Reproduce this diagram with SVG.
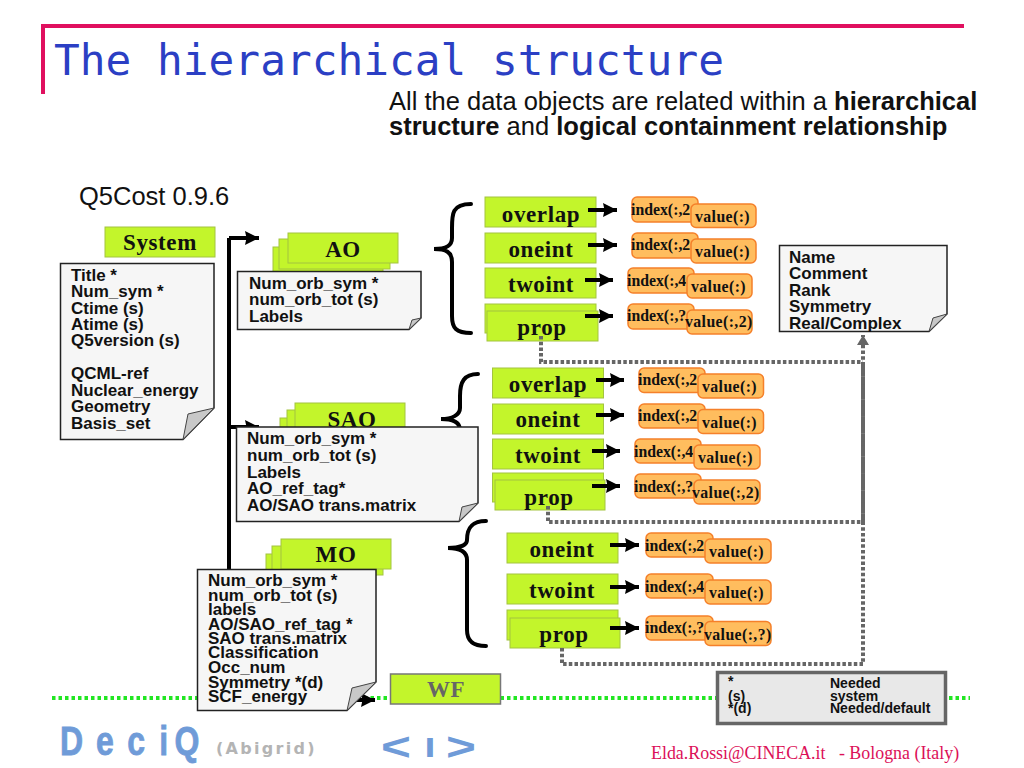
<svg xmlns="http://www.w3.org/2000/svg" width="1024" height="768" viewBox="0 0 1024 768">
<style>
.g{fill:#c3f52b;stroke:#a3c440;stroke-width:1}
.gt{font:bold 23px "Liberation Serif",serif;fill:#111;text-anchor:middle;letter-spacing:.6px}
.o{fill:#ffbd5e;stroke:#f5802a;stroke-width:1.5}
.ot{font:bold 15.800px "Liberation Serif",serif;fill:#111;letter-spacing:.4px}
.it{font:bold 15.800px "Liberation Serif",serif;fill:#111}
.d{fill:#f6f6f6;stroke:#222;stroke-width:1.5}
.f{fill:#c8c8c8;stroke:#444;stroke-width:1}
.dt{font:bold 17px "Liberation Sans",sans-serif;fill:#111;transform:translateY(1px)}
.lt{font:bold 14px "Liberation Sans",sans-serif;fill:#111}
.a{fill:none;stroke:#000;stroke-width:4;marker-end:url(#ah)}
.t{fill:none;stroke:#000;stroke-width:4}
.b{fill:none;stroke:#000;stroke-width:4;stroke-linecap:round}
.p{fill:none;stroke:#666;stroke-width:4;stroke-dasharray:3.5 2.2}
.lg{font:bold 40px "Liberation Sans",sans-serif;fill:#6f9bd8}
</style>
<defs>
<marker id="ah" markerUnits="userSpaceOnUse" markerWidth="16" markerHeight="14" refX="14" refY="7" orient="auto"><path d="M0 0L14 7L0 14L1.500 7Z" fill="#000"/></marker>
<marker id="gh" markerUnits="userSpaceOnUse" markerWidth="12" markerHeight="14" refX="10" refY="6" orient="auto"><path d="M0 0L10 6L0 12Z" fill="#666"/></marker>
</defs>
<rect width="1024" height="768" fill="#fff"/>
<g id="frame"><path d="M43 94V26H964" fill="none" stroke="#e0105f" stroke-width="4"/></g>
<text x="54" y="75" style="font:42.800px 'DejaVu Sans Mono',monospace;fill:#2b3fc4">The hierarchical structure</text>
<text x="389" y="110" style="font:25.500px 'Liberation Sans',sans-serif;fill:#111">All the data objects are related within a <tspan font-weight="bold">hierarchical</tspan></text>
<text x="389" y="135" style="font:25.500px 'Liberation Sans',sans-serif;fill:#111"><tspan font-weight="bold">structure</tspan> and <tspan font-weight="bold">logical containment relationship</tspan></text>
<text x="79" y="205" style="font:25.500px 'Liberation Sans',sans-serif;fill:#111">Q5Cost 0.9.6</text>
<path d="M52 698H970" fill="none" stroke="#22e622" stroke-width="4" stroke-dasharray="3.5 3"/>

<g id="braces">
<path class="b" d="M471 204C452 204 452 214 452 228V238C452 246 446 249 434 249C446 249 452 252 452 262V316C452 328 456 333 471 333"/>
<path class="b" d="M478 374C464 374 460 382 460 396V408C460 415 452 419 441 419C452 419 460 422 460 430V440"/>
<path class="b" d="M486 521C470 521 467 530 467 540C467 545 460 548 448 548C460 548 467 552 467 560V630C467 640 472 646 486 646"/>
</g>

<g id="b1-overlap"><rect class="g" x="485" y="197" width="111" height="30"/><text class="gt" x="541" y="222">overlap</text></g>
<g id="b1-oneint"><rect class="g" x="485" y="233" width="111" height="30"/><text class="gt" x="541" y="257">oneint</text></g>
<g id="b1-twoint"><rect class="g" x="485" y="268" width="111" height="30"/><text class="gt" x="541" y="292">twoint</text></g>
<g id="b1-prop"><rect class="g" x="485" y="304" width="111" height="29"/><rect class="g" x="487" y="311" width="111" height="30"/><text class="gt" x="542" y="335">prop</text></g>
<g id="b2-overlap"><rect class="g" x="492.500" y="368" width="111" height="30"/><text class="gt" x="548" y="392">overlap</text></g>
<g id="b2-oneint"><rect class="g" x="492.500" y="404" width="111" height="30"/><text class="gt" x="548" y="427">oneint</text></g>
<g id="b2-twoint"><rect class="g" x="492.500" y="439" width="111" height="30"/><text class="gt" x="548" y="463">twoint</text></g>
<g id="b2-prop"><rect class="g" x="492.500" y="473" width="111" height="29"/><rect class="g" x="495" y="480" width="110" height="30"/><text class="gt" x="549" y="505">prop</text></g>
<g id="b3-oneint"><rect class="g" x="507" y="533" width="111" height="30"/><text class="gt" x="562" y="557">oneint</text></g>
<g id="b3-twoint"><rect class="g" x="507" y="574" width="111" height="30"/><text class="gt" x="562" y="598">twoint</text></g>
<g id="b3-prop"><rect class="g" x="507" y="610" width="111" height="30"/><rect class="g" x="510" y="618" width="110" height="30"/><text class="gt" x="564" y="642">prop</text></g>

<g id="connectors">
<path class="t" d="M229 238V700"/>
<path class="a" d="M229 238H259"/>
<path class="a" d="M229 427H259"/>
<path class="a" d="M229 700H375"/>
<path class="a" d="M588 210H617"/>
<path class="a" d="M588 245H617"/>
<path class="a" d="M585 280H613"/>
<path class="a" d="M585 316H613"/>
<path class="a" d="M596 380H624"/>
<path class="a" d="M596 415H624"/>
<path class="a" d="M592 451H620"/>
<path class="a" d="M592 486H620"/>
<path class="a" d="M610 545H639"/>
<path class="a" d="M610 587H639"/>
<path class="a" d="M610 628H639"/>
<path class="p" d="M541 336V362H863"/>
<path class="p" d="M548 506V522H863V362"/>
<path class="p" d="M562 648V664H863V335" marker-end="url(#gh)"/>
</g>

<g id="v1a"><rect class="o" x="632" y="197" width="66" height="25" rx="5"/><text class="it" x="631" y="215">index(:,2</text><rect class="o" x="691" y="204" width="65" height="23.500" rx="5"/><text class="ot" x="695" y="222">value(:)</text></g>
<g id="v1b"><rect class="o" x="632" y="233" width="66" height="25" rx="5"/><text class="it" x="631" y="250">index(:,2</text><rect class="o" x="691" y="239" width="65" height="24" rx="5"/><text class="ot" x="695" y="257">value(:)</text></g>
<g id="v1c"><rect class="o" x="628" y="268" width="66" height="25" rx="5"/><text class="it" x="627" y="286">index(:,4</text><rect class="o" x="687" y="274" width="65" height="24" rx="5"/><text class="ot" x="691" y="292">value(:)</text></g>
<g id="v1d"><rect class="o" x="628" y="304" width="66" height="25" rx="5"/><text class="it" x="627" y="321">index(:,?</text><rect class="o" x="687" y="310" width="65" height="24" rx="5"/><text class="ot" x="685" y="327">value(:,2)</text></g>
<g id="v2a"><rect class="o" x="639" y="368" width="66" height="24.500" rx="5"/><text class="it" x="638" y="385">index(:,2</text><rect class="o" x="698" y="374" width="65.500" height="24" rx="5"/><text class="ot" x="702" y="392">value(:)</text></g>
<g id="v2b"><rect class="o" x="639" y="404" width="66" height="24" rx="5"/><text class="it" x="638" y="421">index(:,2</text><rect class="o" x="698" y="409.500" width="65.500" height="24" rx="5"/><text class="ot" x="702" y="428">value(:)</text></g>
<g id="v2c"><rect class="o" x="635" y="439" width="66" height="24" rx="5"/><text class="it" x="634" y="457">index(:,4</text><rect class="o" x="694" y="445" width="66" height="24" rx="5"/><text class="ot" x="698" y="463">value(:)</text></g>
<g id="v2d"><rect class="o" x="635" y="474" width="66" height="24" rx="5"/><text class="it" x="634" y="492">index(:,?</text><rect class="o" x="694" y="480" width="66" height="24" rx="5"/><text class="ot" x="692" y="498">value(:,2)</text></g>
<g id="v3a"><rect class="o" x="646" y="533" width="67" height="24" rx="5"/><text class="it" x="645" y="551">index(:,2</text><rect class="o" x="705" y="539" width="66" height="24" rx="5"/><text class="ot" x="709" y="557">value(:)</text></g>
<g id="v3b"><rect class="o" x="646" y="574" width="67" height="24" rx="5"/><text class="it" x="645" y="592">index(:,4</text><rect class="o" x="705" y="580" width="66" height="24" rx="5"/><text class="ot" x="709" y="598">value(:)</text></g>
<g id="v3c"><rect class="o" x="646" y="616" width="67" height="24" rx="5"/><text class="it" x="645" y="633">index(:,?</text><rect class="o" x="705" y="621.500" width="66" height="24" rx="5"/><text class="ot" x="704" y="640">value(:,?)</text></g>

<g id="system"><rect class="g" x="105" y="227" width="110" height="30"/><text class="gt" x="160" y="250">System</text></g>
<g id="system-doc">
<path class="d" d="M60.500 263.500H214V408L183 439.500H60.500Z"/><path class="f" d="M183 439.500L188 414L214 408Z"/>
<text class="dt"><tspan x="71" y="280">Title *</tspan><tspan x="71" y="296">Num_sym *</tspan><tspan x="71" y="313">Ctime (s)</tspan><tspan x="71" y="329">Atime (s)</tspan><tspan x="71" y="345">Q5version (s)</tspan><tspan x="71" y="378">QCML-ref</tspan><tspan x="71" y="395">Nuclear_energy</tspan><tspan x="71" y="411">Geometry</tspan><tspan x="71" y="428">Basis_set</tspan></text>
</g>

<g id="ao"><rect class="g" x="273" y="247" width="110" height="30"/><rect class="g" x="279" y="239" width="111" height="30"/><rect class="g" x="288" y="233" width="110" height="30"/><text class="gt" x="343" y="257">AO</text></g>
<g id="ao-doc">
<path class="d" d="M237.500 271.500H421V318L409 329.500H237.500Z"/><path class="f" d="M409 329.500L412 320L421 318Z"/>
<text class="dt"><tspan x="249" y="288">Num_orb_sym *</tspan><tspan x="249" y="304">num_orb_tot (s)</tspan><tspan x="249" y="321">Labels</tspan></text>
</g>

<g id="sao"><rect class="g" x="280" y="418" width="110" height="30"/><rect class="g" x="287" y="410" width="110" height="30"/><rect class="g" x="295" y="403" width="110" height="30"/><text class="gt" x="352" y="427">SAO</text></g>
<g id="sao-doc">
<path class="d" d="M236.500 427H478V503L459 521.500H236.500Z"/><path class="f" d="M459 521.500L462 507L478 503Z"/>
<text class="dt"><tspan x="247" y="443">Num_orb_sym *</tspan><tspan x="247" y="460">num_orb_tot (s)</tspan><tspan x="247" y="477">Labels</tspan><tspan x="247" y="493">AO_ref_tag*</tspan><tspan x="247" y="510">AO/SAO trans.matrix</tspan></text>
</g>

<g id="mo"><rect class="g" x="266" y="554" width="110" height="21"/><rect class="g" x="272" y="546" width="111" height="29"/><rect class="g" x="281" y="539" width="110" height="30"/><text class="gt" x="336" y="562">MO</text></g>
<g id="mo-doc">
<path class="d" d="M197.500 569.500H376V682L347 710.500H197.500Z"/><path class="f" d="M347 710.500L352 688L376 682Z"/>
<text class="dt"><tspan x="208" y="585">Num_orb_sym *</tspan><tspan x="208" y="600">num_orb_tot (s)</tspan><tspan x="208" y="614">labels</tspan><tspan x="208" y="629">AO/SAO_ref_tag *</tspan><tspan x="208" y="643">SAO trans.matrix</tspan><tspan x="208" y="657">Classification</tspan><tspan x="208" y="672">Occ_num</tspan><tspan x="208" y="687">Symmetry *(d)</tspan><tspan x="208" y="701">SCF_energy</tspan></text>
</g>

<g id="wf"><rect x="390.500" y="674" width="110" height="30" fill="#c3f52b" stroke="#777" stroke-width="1.500"/><text class="gt" x="446" y="697" style="fill:#666">WF</text></g>

<g id="name-doc">
<path class="d" d="M779.500 245.500H947V314L929 331.500H779.500Z"/><path class="f" d="M929 331.500L933 318L947 314Z"/>
<text class="dt"><tspan x="789" y="262">Name</tspan><tspan x="789" y="278">Comment</tspan><tspan x="789" y="295">Rank</tspan><tspan x="789" y="311">Symmetry</tspan><tspan x="789" y="328">Real/Complex</tspan></text>
</g>

<g id="legend">
<rect x="717.500" y="672.500" width="228" height="51" fill="#e8e8e8" stroke="#666" stroke-width="3.500"/>
<text class="lt"><tspan x="728" y="686">*</tspan><tspan x="728" y="701">(s)</tspan><tspan x="728" y="713">*(d)</tspan><tspan x="830" y="688">Needed</tspan><tspan x="830" y="701">system</tspan><tspan x="830" y="713">Needed/default</tspan></text>
</g>

<g id="footer">
<text class="lg" transform="translate(60 755) scale(.8 1)" x="0 45 84 124 143" y="0 0 0 0 0" style="stroke:#6f9bd8;stroke-width:.8">DeciQ</text>
<text x="216" y="754" style="font:bold 16px 'DejaVu Sans',sans-serif;fill:#b4b4b4;letter-spacing:2.300px">(Abigrid)</text>
<text class="lg" transform="translate(381 760) scale(1.350 1)" x="0" y="0" style="font-size:38px">&lt;</text>
<text class="lg" transform="translate(424.500 757) scale(1.400 1)" x="0" y="0" style="font-size:28px">I</text>
<text class="lg" transform="translate(446 760) scale(1.350 1)" x="0" y="0" style="font-size:38px">&gt;</text>
<text x="651" y="759" xml:space="preserve" style="font:17.900px 'Liberation Serif',serif;fill:#dc1058;white-space:pre">Elda.Rossi@CINECA.it   - Bologna (Italy)</text>
</g>
</svg>
